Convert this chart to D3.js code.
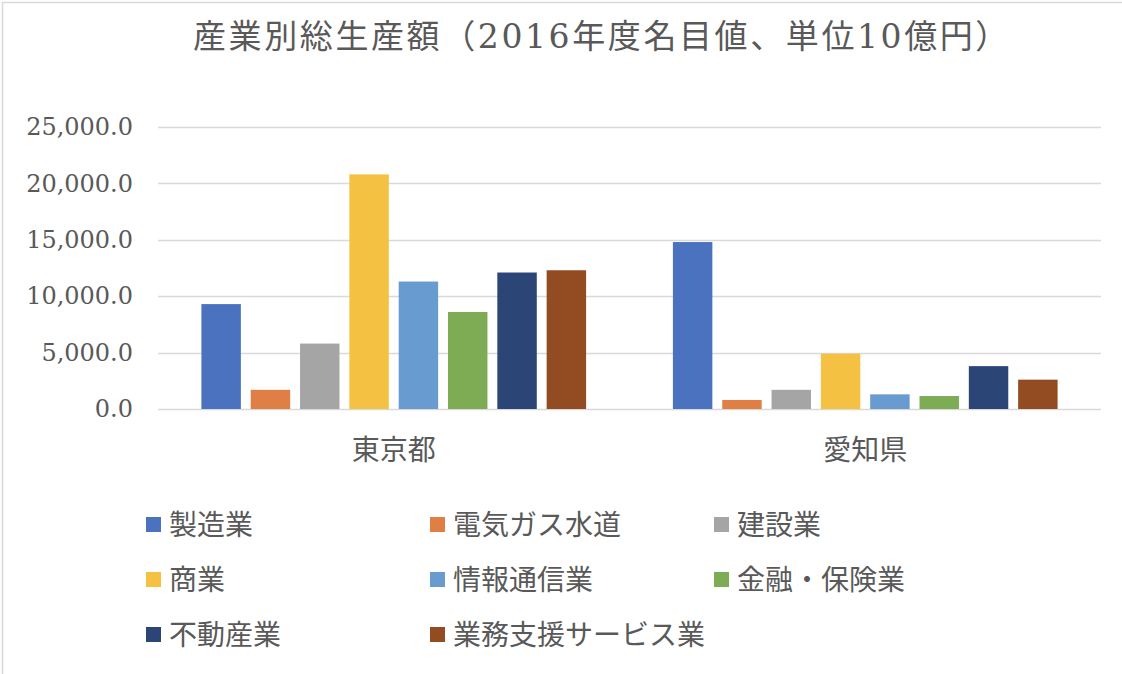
<!DOCTYPE html>
<html>
<head>
<meta charset="utf-8">
<script src="https://cdn.jsdelivr.net/npm/d3@7"></script>
<style>
  html, body { margin: 0; padding: 0; background: #fff; }
  svg { display: block; }
  text { font-family: "DejaVu Serif", "Noto Sans CJK JP", serif; fill: #595959; }
</style>
</head>
<body>
<svg id="chart" width="1122" height="674"></svg>
<script>
const titleText = "産業別総生産額（2016年度名目値、単位10億円）";
const regions = ["東京都", "愛知県"];
const industries = ["製造業", "電気ガス水道", "建設業", "商業", "情報通信業", "金融・保険業", "不動産業", "業務支援サービス業"];
const tokyoValues = [9300, 1700, 5800, 20800, 11300, 8600, 12100, 12300];
const aichiValues = [14800, 800, 1700, 4900, 1300, 1150, 3800, 2600];
const yTicks = [0, 5000, 10000, 15000, 20000, 25000];
const colors = ["#4a72be", "#e07f45", "#a5a5a5", "#f5c142", "#689bd0", "#7dac55", "#2b4577", "#934b22"];

const seriesByRegion = [tokyoValues, aichiValues];

const svg = d3.select("#chart");

// chart border
svg.append("rect").attr("x", 2.5).attr("y", 2.5).attr("width", 1200).attr("height", 800)
  .attr("fill", "none").attr("stroke", "#d9d9d9").attr("stroke-width", 1.5);

// title
svg.append("text").attr("x", 602).attr("y", 48).attr("text-anchor", "middle")
  .style("font-size", "33px").style("letter-spacing", "2.6px").text(titleText);

const plotLeft = 158, plotRight = 1101;
const y = d3.scaleLinear().domain([0, 25000]).range([409, 127]);
const x0 = d3.scaleBand().domain(regions).range([plotLeft, plotRight]).padding(0);
const x1 = d3.scaleBand().domain(industries).range([0, x0.bandwidth()])
  .paddingInner(0.2).paddingOuter(0.88);

// gridlines
svg.append("g").selectAll("line").data(yTicks).join("line")
  .attr("x1", plotLeft).attr("x2", plotRight)
  .attr("y1", d => Math.round(y(d)) + 0.5).attr("y2", d => Math.round(y(d)) + 0.5)
  .attr("stroke", "#d9d9d9").attr("stroke-width", 1.5);

// y axis labels
const yAxis = d3.axisLeft(y).tickValues(yTicks).tickSize(0).tickPadding(0)
  .tickFormat(d3.format(",.1f"));
const ya = svg.append("g").attr("transform", "translate(133,0)").call(yAxis);
ya.select(".domain").remove();
ya.selectAll("text").style("font-size", "24px").attr("fill", "#595959")
  .style("font-family", '"DejaVu Serif", serif');

// bars
const groups = svg.append("g").selectAll("g").data(regions).join("g")
  .attr("transform", d => `translate(${x0(d)},0)`);
groups.selectAll("rect")
  .data((r, i) => industries.map((ind, j) => ({ ind, v: seriesByRegion[i][j], j })))
  .join("rect")
  .attr("x", d => x1(d.ind))
  .attr("width", x1.bandwidth())
  .attr("y", d => y(d.v))
  .attr("height", d => y(0) - y(d.v))
  .attr("fill", d => colors[d.j]);

// category labels
const xAxis = d3.axisBottom(x0).tickSize(0).tickPadding(0);
const xa = svg.append("g").attr("transform", "translate(0,460)").call(xAxis);
xa.select(".domain").remove();
xa.selectAll("text").attr("dy", 0).style("font-size", "28px").attr("fill", "#595959")
  .style("font-family", '"Noto Sans CJK JP", sans-serif');

// legend
const legCols = [146, 430, 714];
const legRows = [525, 580, 635];
const legend = svg.append("g").selectAll("g").data(industries).join("g")
  .attr("transform", (d, i) => `translate(${legCols[i % 3]},${legRows[Math.floor(i / 3)]})`);
legend.append("rect").attr("x", 0).attr("y", -8).attr("width", 15).attr("height", 15)
  .attr("fill", (d, i) => colors[i]);
legend.append("text").attr("x", 23).attr("y", 10).style("font-size", "28px")
  .style("font-family", '"Noto Sans CJK JP", sans-serif').text(d => d);
</script>
</body>
</html>
